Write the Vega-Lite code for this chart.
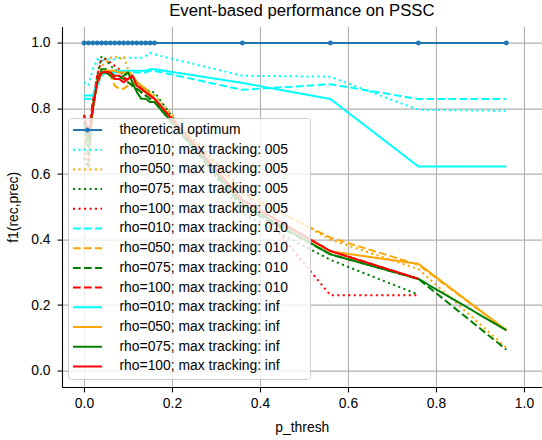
{
"$schema": "https://vega.github.io/schema/vega-lite/v6.json",
"width": 479.6, "height": 360.4,
"autosize": {"type": "none"},
"padding": {"left": 62, "top": 26.6, "right": 0, "bottom": 53},
"background": "white",
"config": {"view": {"stroke": null}, "font": "Liberation Sans",
 "axis": {"grid": true, "gridColor": "#b0b0b0", "gridWidth": 1.1, "domainColor": "black", "domainWidth": 1.1, "tickColor": "black", "tickSize": 4.9, "tickWidth": 1.1, "labelFontSize": 13.9, "labelColor": "black", "labelPadding": 4.9, "titleFontSize": 13.9, "titleFontWeight": "normal", "titleColor": "black", "labelFont": "Liberation Sans", "titleFont": "Liberation Sans"}},
"title": {"text": "Event-based performance on PSSC", "fontSize": 16.7, "fontWeight": "normal", "color": "black", "font": "Liberation Sans", "offset": 7, "anchor": "middle"},
"data": {"values": [
{"s":"theoretical optimum","x":0,"y":1},{"s":"theoretical optimum","x":0.01,"y":1},{"s":"theoretical optimum","x":0.02,"y":1},{"s":"theoretical optimum","x":0.03,"y":1},{"s":"theoretical optimum","x":0.04,"y":1},{"s":"theoretical optimum","x":0.05,"y":1},{"s":"theoretical optimum","x":0.06,"y":1},{"s":"theoretical optimum","x":0.07,"y":1},{"s":"theoretical optimum","x":0.08,"y":1},{"s":"theoretical optimum","x":0.09,"y":1},{"s":"theoretical optimum","x":0.10,"y":1},{"s":"theoretical optimum","x":0.11,"y":1},{"s":"theoretical optimum","x":0.12,"y":1},{"s":"theoretical optimum","x":0.13,"y":1},{"s":"theoretical optimum","x":0.14,"y":1},{"s":"theoretical optimum","x":0.15,"y":1},{"s":"theoretical optimum","x":0.16,"y":1},{"s":"theoretical optimum","x":0.36,"y":1},{"s":"theoretical optimum","x":0.56,"y":1},{"s":"theoretical optimum","x":0.76,"y":1},{"s":"theoretical optimum","x":0.96,"y":1},
{"s":"rho=010; max tracking: 005","x":0,"y":0.88},{"s":"rho=010; max tracking: 005","x":0.01,"y":0.87},{"s":"rho=010; max tracking: 005","x":0.02,"y":0.92},{"s":"rho=010; max tracking: 005","x":0.03,"y":0.95},{"s":"rho=010; max tracking: 005","x":0.04,"y":0.945},{"s":"rho=010; max tracking: 005","x":0.05,"y":0.95},{"s":"rho=010; max tracking: 005","x":0.06,"y":0.95},{"s":"rho=010; max tracking: 005","x":0.07,"y":0.95},{"s":"rho=010; max tracking: 005","x":0.08,"y":0.955},{"s":"rho=010; max tracking: 005","x":0.09,"y":0.955},{"s":"rho=010; max tracking: 005","x":0.10,"y":0.955},{"s":"rho=010; max tracking: 005","x":0.11,"y":0.955},{"s":"rho=010; max tracking: 005","x":0.12,"y":0.955},{"s":"rho=010; max tracking: 005","x":0.13,"y":0.955},{"s":"rho=010; max tracking: 005","x":0.14,"y":0.96},{"s":"rho=010; max tracking: 005","x":0.15,"y":0.97},{"s":"rho=010; max tracking: 005","x":0.16,"y":0.965},{"s":"rho=010; max tracking: 005","x":0.36,"y":0.90},{"s":"rho=010; max tracking: 005","x":0.56,"y":0.897},{"s":"rho=010; max tracking: 005","x":0.76,"y":0.796},{"s":"rho=010; max tracking: 005","x":0.96,"y":0.793},
{"s":"rho=050; max tracking: 005","x":0,"y":0.70},{"s":"rho=050; max tracking: 005","x":0.01,"y":0.60},{"s":"rho=050; max tracking: 005","x":0.02,"y":0.80},{"s":"rho=050; max tracking: 005","x":0.03,"y":0.88},{"s":"rho=050; max tracking: 005","x":0.04,"y":0.93},{"s":"rho=050; max tracking: 005","x":0.05,"y":0.94},{"s":"rho=050; max tracking: 005","x":0.06,"y":0.955},{"s":"rho=050; max tracking: 005","x":0.07,"y":0.96},{"s":"rho=050; max tracking: 005","x":0.08,"y":0.95},{"s":"rho=050; max tracking: 005","x":0.09,"y":0.96},{"s":"rho=050; max tracking: 005","x":0.10,"y":0.92},{"s":"rho=050; max tracking: 005","x":0.11,"y":0.90},{"s":"rho=050; max tracking: 005","x":0.12,"y":0.88},{"s":"rho=050; max tracking: 005","x":0.13,"y":0.87},{"s":"rho=050; max tracking: 005","x":0.14,"y":0.86},{"s":"rho=050; max tracking: 005","x":0.15,"y":0.85},{"s":"rho=050; max tracking: 005","x":0.16,"y":0.84},{"s":"rho=050; max tracking: 005","x":0.36,"y":0.55},{"s":"rho=050; max tracking: 005","x":0.56,"y":0.40},{"s":"rho=050; max tracking: 005","x":0.76,"y":0.31},{"s":"rho=050; max tracking: 005","x":0.96,"y":0.07},
{"s":"rho=075; max tracking: 005","x":0,"y":0.65},{"s":"rho=075; max tracking: 005","x":0.01,"y":0.62},{"s":"rho=075; max tracking: 005","x":0.02,"y":0.82},{"s":"rho=075; max tracking: 005","x":0.03,"y":0.90},{"s":"rho=075; max tracking: 005","x":0.04,"y":0.96},{"s":"rho=075; max tracking: 005","x":0.05,"y":0.95},{"s":"rho=075; max tracking: 005","x":0.06,"y":0.93},{"s":"rho=075; max tracking: 005","x":0.07,"y":0.92},{"s":"rho=075; max tracking: 005","x":0.08,"y":0.91},{"s":"rho=075; max tracking: 005","x":0.09,"y":0.91},{"s":"rho=075; max tracking: 005","x":0.10,"y":0.90},{"s":"rho=075; max tracking: 005","x":0.11,"y":0.89},{"s":"rho=075; max tracking: 005","x":0.12,"y":0.88},{"s":"rho=075; max tracking: 005","x":0.13,"y":0.87},{"s":"rho=075; max tracking: 005","x":0.14,"y":0.86},{"s":"rho=075; max tracking: 005","x":0.15,"y":0.85},{"s":"rho=075; max tracking: 005","x":0.16,"y":0.85},{"s":"rho=075; max tracking: 005","x":0.36,"y":0.48},{"s":"rho=075; max tracking: 005","x":0.56,"y":0.338},{"s":"rho=075; max tracking: 005","x":0.76,"y":0.232},
{"s":"rho=100; max tracking: 005","x":0,"y":0.68},{"s":"rho=100; max tracking: 005","x":0.01,"y":0.62},{"s":"rho=100; max tracking: 005","x":0.02,"y":0.80},{"s":"rho=100; max tracking: 005","x":0.03,"y":0.90},{"s":"rho=100; max tracking: 005","x":0.04,"y":0.95},{"s":"rho=100; max tracking: 005","x":0.05,"y":0.95},{"s":"rho=100; max tracking: 005","x":0.06,"y":0.94},{"s":"rho=100; max tracking: 005","x":0.07,"y":0.93},{"s":"rho=100; max tracking: 005","x":0.08,"y":0.92},{"s":"rho=100; max tracking: 005","x":0.09,"y":0.90},{"s":"rho=100; max tracking: 005","x":0.10,"y":0.88},{"s":"rho=100; max tracking: 005","x":0.11,"y":0.87},{"s":"rho=100; max tracking: 005","x":0.12,"y":0.86},{"s":"rho=100; max tracking: 005","x":0.13,"y":0.85},{"s":"rho=100; max tracking: 005","x":0.14,"y":0.84},{"s":"rho=100; max tracking: 005","x":0.15,"y":0.83},{"s":"rho=100; max tracking: 005","x":0.16,"y":0.82},{"s":"rho=100; max tracking: 005","x":0.36,"y":0.555},{"s":"rho=100; max tracking: 005","x":0.56,"y":0.23},{"s":"rho=100; max tracking: 005","x":0.76,"y":0.23},
{"s":"rho=010; max tracking: 010","x":0,"y":0.83},{"s":"rho=010; max tracking: 010","x":0.01,"y":0.83},{"s":"rho=010; max tracking: 010","x":0.02,"y":0.83},{"s":"rho=010; max tracking: 010","x":0.03,"y":0.87},{"s":"rho=010; max tracking: 010","x":0.04,"y":0.90},{"s":"rho=010; max tracking: 010","x":0.05,"y":0.91},{"s":"rho=010; max tracking: 010","x":0.06,"y":0.91},{"s":"rho=010; max tracking: 010","x":0.07,"y":0.91},{"s":"rho=010; max tracking: 010","x":0.08,"y":0.91},{"s":"rho=010; max tracking: 010","x":0.09,"y":0.91},{"s":"rho=010; max tracking: 010","x":0.10,"y":0.91},{"s":"rho=010; max tracking: 010","x":0.11,"y":0.91},{"s":"rho=010; max tracking: 010","x":0.12,"y":0.91},{"s":"rho=010; max tracking: 010","x":0.13,"y":0.91},{"s":"rho=010; max tracking: 010","x":0.14,"y":0.91},{"s":"rho=010; max tracking: 010","x":0.15,"y":0.915},{"s":"rho=010; max tracking: 010","x":0.16,"y":0.915},{"s":"rho=010; max tracking: 010","x":0.36,"y":0.857},{"s":"rho=010; max tracking: 010","x":0.56,"y":0.874},{"s":"rho=010; max tracking: 010","x":0.76,"y":0.829},{"s":"rho=010; max tracking: 010","x":0.96,"y":0.829},
{"s":"rho=050; max tracking: 010","x":0,"y":0.72},{"s":"rho=050; max tracking: 010","x":0.01,"y":0.70},{"s":"rho=050; max tracking: 010","x":0.02,"y":0.80},{"s":"rho=050; max tracking: 010","x":0.03,"y":0.88},{"s":"rho=050; max tracking: 010","x":0.04,"y":0.90},{"s":"rho=050; max tracking: 010","x":0.05,"y":0.92},{"s":"rho=050; max tracking: 010","x":0.06,"y":0.90},{"s":"rho=050; max tracking: 010","x":0.07,"y":0.87},{"s":"rho=050; max tracking: 010","x":0.08,"y":0.86},{"s":"rho=050; max tracking: 010","x":0.09,"y":0.86},{"s":"rho=050; max tracking: 010","x":0.10,"y":0.87},{"s":"rho=050; max tracking: 010","x":0.11,"y":0.88},{"s":"rho=050; max tracking: 010","x":0.12,"y":0.87},{"s":"rho=050; max tracking: 010","x":0.13,"y":0.86},{"s":"rho=050; max tracking: 010","x":0.14,"y":0.85},{"s":"rho=050; max tracking: 010","x":0.15,"y":0.84},{"s":"rho=050; max tracking: 010","x":0.16,"y":0.83},{"s":"rho=050; max tracking: 010","x":0.36,"y":0.54},{"s":"rho=050; max tracking: 010","x":0.56,"y":0.406},{"s":"rho=050; max tracking: 010","x":0.76,"y":0.323},{"s":"rho=050; max tracking: 010","x":0.96,"y":0.123},
{"s":"rho=075; max tracking: 010","x":0,"y":0.74},{"s":"rho=075; max tracking: 010","x":0.01,"y":0.66},{"s":"rho=075; max tracking: 010","x":0.02,"y":0.80},{"s":"rho=075; max tracking: 010","x":0.03,"y":0.88},{"s":"rho=075; max tracking: 010","x":0.04,"y":0.92},{"s":"rho=075; max tracking: 010","x":0.05,"y":0.92},{"s":"rho=075; max tracking: 010","x":0.06,"y":0.91},{"s":"rho=075; max tracking: 010","x":0.07,"y":0.90},{"s":"rho=075; max tracking: 010","x":0.08,"y":0.90},{"s":"rho=075; max tracking: 010","x":0.09,"y":0.89},{"s":"rho=075; max tracking: 010","x":0.10,"y":0.88},{"s":"rho=075; max tracking: 010","x":0.11,"y":0.87},{"s":"rho=075; max tracking: 010","x":0.12,"y":0.86},{"s":"rho=075; max tracking: 010","x":0.13,"y":0.85},{"s":"rho=075; max tracking: 010","x":0.14,"y":0.84},{"s":"rho=075; max tracking: 010","x":0.15,"y":0.83},{"s":"rho=075; max tracking: 010","x":0.16,"y":0.82},{"s":"rho=075; max tracking: 010","x":0.36,"y":0.50},{"s":"rho=075; max tracking: 010","x":0.56,"y":0.355},{"s":"rho=075; max tracking: 010","x":0.76,"y":0.28},{"s":"rho=075; max tracking: 010","x":0.96,"y":0.064},
{"s":"rho=100; max tracking: 010","x":0,"y":0.78},{"s":"rho=100; max tracking: 010","x":0.01,"y":0.72},{"s":"rho=100; max tracking: 010","x":0.02,"y":0.82},{"s":"rho=100; max tracking: 010","x":0.03,"y":0.90},{"s":"rho=100; max tracking: 010","x":0.04,"y":0.91},{"s":"rho=100; max tracking: 010","x":0.05,"y":0.91},{"s":"rho=100; max tracking: 010","x":0.06,"y":0.91},{"s":"rho=100; max tracking: 010","x":0.07,"y":0.90},{"s":"rho=100; max tracking: 010","x":0.08,"y":0.90},{"s":"rho=100; max tracking: 010","x":0.09,"y":0.89},{"s":"rho=100; max tracking: 010","x":0.10,"y":0.89},{"s":"rho=100; max tracking: 010","x":0.11,"y":0.90},{"s":"rho=100; max tracking: 010","x":0.12,"y":0.88},{"s":"rho=100; max tracking: 010","x":0.13,"y":0.86},{"s":"rho=100; max tracking: 010","x":0.14,"y":0.85},{"s":"rho=100; max tracking: 010","x":0.15,"y":0.84},{"s":"rho=100; max tracking: 010","x":0.16,"y":0.83},{"s":"rho=100; max tracking: 010","x":0.36,"y":0.52},{"s":"rho=100; max tracking: 010","x":0.56,"y":0.365},{"s":"rho=100; max tracking: 010","x":0.76,"y":0.28},
{"s":"rho=010; max tracking: inf","x":0,"y":0.84},{"s":"rho=010; max tracking: inf","x":0.01,"y":0.84},{"s":"rho=010; max tracking: inf","x":0.02,"y":0.84},{"s":"rho=010; max tracking: inf","x":0.03,"y":0.88},{"s":"rho=010; max tracking: inf","x":0.04,"y":0.91},{"s":"rho=010; max tracking: inf","x":0.05,"y":0.915},{"s":"rho=010; max tracking: inf","x":0.06,"y":0.915},{"s":"rho=010; max tracking: inf","x":0.07,"y":0.915},{"s":"rho=010; max tracking: inf","x":0.08,"y":0.915},{"s":"rho=010; max tracking: inf","x":0.09,"y":0.915},{"s":"rho=010; max tracking: inf","x":0.10,"y":0.915},{"s":"rho=010; max tracking: inf","x":0.11,"y":0.915},{"s":"rho=010; max tracking: inf","x":0.12,"y":0.915},{"s":"rho=010; max tracking: inf","x":0.13,"y":0.915},{"s":"rho=010; max tracking: inf","x":0.14,"y":0.915},{"s":"rho=010; max tracking: inf","x":0.15,"y":0.92},{"s":"rho=010; max tracking: inf","x":0.16,"y":0.92},{"s":"rho=010; max tracking: inf","x":0.36,"y":0.878},{"s":"rho=010; max tracking: inf","x":0.56,"y":0.829},{"s":"rho=010; max tracking: inf","x":0.76,"y":0.623},{"s":"rho=010; max tracking: inf","x":0.96,"y":0.623},
{"s":"rho=050; max tracking: inf","x":0,"y":0.75},{"s":"rho=050; max tracking: inf","x":0.01,"y":0.70},{"s":"rho=050; max tracking: inf","x":0.02,"y":0.80},{"s":"rho=050; max tracking: inf","x":0.03,"y":0.88},{"s":"rho=050; max tracking: inf","x":0.04,"y":0.91},{"s":"rho=050; max tracking: inf","x":0.05,"y":0.915},{"s":"rho=050; max tracking: inf","x":0.06,"y":0.915},{"s":"rho=050; max tracking: inf","x":0.07,"y":0.915},{"s":"rho=050; max tracking: inf","x":0.08,"y":0.91},{"s":"rho=050; max tracking: inf","x":0.09,"y":0.91},{"s":"rho=050; max tracking: inf","x":0.10,"y":0.91},{"s":"rho=050; max tracking: inf","x":0.11,"y":0.90},{"s":"rho=050; max tracking: inf","x":0.12,"y":0.88},{"s":"rho=050; max tracking: inf","x":0.13,"y":0.87},{"s":"rho=050; max tracking: inf","x":0.14,"y":0.86},{"s":"rho=050; max tracking: inf","x":0.15,"y":0.845},{"s":"rho=050; max tracking: inf","x":0.16,"y":0.83},{"s":"rho=050; max tracking: inf","x":0.36,"y":0.52},{"s":"rho=050; max tracking: inf","x":0.56,"y":0.364},{"s":"rho=050; max tracking: inf","x":0.76,"y":0.326},{"s":"rho=050; max tracking: inf","x":0.96,"y":0.123},
{"s":"rho=075; max tracking: inf","x":0,"y":0.76},{"s":"rho=075; max tracking: inf","x":0.01,"y":0.70},{"s":"rho=075; max tracking: inf","x":0.02,"y":0.80},{"s":"rho=075; max tracking: inf","x":0.03,"y":0.88},{"s":"rho=075; max tracking: inf","x":0.04,"y":0.91},{"s":"rho=075; max tracking: inf","x":0.05,"y":0.91},{"s":"rho=075; max tracking: inf","x":0.06,"y":0.90},{"s":"rho=075; max tracking: inf","x":0.07,"y":0.89},{"s":"rho=075; max tracking: inf","x":0.08,"y":0.89},{"s":"rho=075; max tracking: inf","x":0.09,"y":0.90},{"s":"rho=075; max tracking: inf","x":0.10,"y":0.91},{"s":"rho=075; max tracking: inf","x":0.11,"y":0.88},{"s":"rho=075; max tracking: inf","x":0.12,"y":0.85},{"s":"rho=075; max tracking: inf","x":0.13,"y":0.83},{"s":"rho=075; max tracking: inf","x":0.14,"y":0.83},{"s":"rho=075; max tracking: inf","x":0.15,"y":0.82},{"s":"rho=075; max tracking: inf","x":0.16,"y":0.82},{"s":"rho=075; max tracking: inf","x":0.36,"y":0.51},{"s":"rho=075; max tracking: inf","x":0.56,"y":0.355},{"s":"rho=075; max tracking: inf","x":0.76,"y":0.28},{"s":"rho=075; max tracking: inf","x":0.96,"y":0.123},
{"s":"rho=100; max tracking: inf","x":0,"y":0.78},{"s":"rho=100; max tracking: inf","x":0.01,"y":0.72},{"s":"rho=100; max tracking: inf","x":0.02,"y":0.80},{"s":"rho=100; max tracking: inf","x":0.03,"y":0.88},{"s":"rho=100; max tracking: inf","x":0.04,"y":0.91},{"s":"rho=100; max tracking: inf","x":0.05,"y":0.912},{"s":"rho=100; max tracking: inf","x":0.06,"y":0.91},{"s":"rho=100; max tracking: inf","x":0.07,"y":0.89},{"s":"rho=100; max tracking: inf","x":0.08,"y":0.89},{"s":"rho=100; max tracking: inf","x":0.09,"y":0.88},{"s":"rho=100; max tracking: inf","x":0.10,"y":0.89},{"s":"rho=100; max tracking: inf","x":0.11,"y":0.90},{"s":"rho=100; max tracking: inf","x":0.12,"y":0.87},{"s":"rho=100; max tracking: inf","x":0.13,"y":0.86},{"s":"rho=100; max tracking: inf","x":0.14,"y":0.85},{"s":"rho=100; max tracking: inf","x":0.15,"y":0.84},{"s":"rho=100; max tracking: inf","x":0.16,"y":0.83},{"s":"rho=100; max tracking: inf","x":0.36,"y":0.52},{"s":"rho=100; max tracking: inf","x":0.56,"y":0.365},{"s":"rho=100; max tracking: inf","x":0.76,"y":0.28}
]},
"encoding": {
 "x": {"field": "x", "type": "quantitative", "scale": {"domain": [-0.05, 1.04], "nice": false, "zero": false}, "axis": {"title": "p_thresh", "values": [0, 0.2, 0.4, 0.6, 0.8, 1.0], "format": ".1f", "titlePadding": 10}},
 "y": {"field": "y", "type": "quantitative", "scale": {"domain": [-0.05, 1.05], "nice": false, "zero": false}, "axis": {"title": "f1(rec,prec)", "values": [0, 0.2, 0.4, 0.6, 0.8, 1.0], "format": ".1f", "labelPadding": 7, "titlePadding": 10}}
},
"layer": [
 {"mark": {"type": "line", "strokeWidth": 2, "clip": true},
  "encoding": {
   "color": {"field": "s", "type": "nominal", "sort": null,
     "scale": {"domain": ["theoretical optimum","rho=010; max tracking: 005","rho=050; max tracking: 005","rho=075; max tracking: 005","rho=100; max tracking: 005","rho=010; max tracking: 010","rho=050; max tracking: 010","rho=075; max tracking: 010","rho=100; max tracking: 010","rho=010; max tracking: inf","rho=050; max tracking: inf","rho=075; max tracking: inf","rho=100; max tracking: inf"],
       "range": ["#1f77b4","#00ffff","#ffa500","#008000","#ff0000","#00ffff","#ffa500","#008000","#ff0000","#00ffff","#ffa500","#008000","#ff0000"]},
     "legend": {"title": "\u00a0", "titleOrient": "right", "titlePadding": 17, "titleFontSize": 13.9, "orient": "none", "legendX": 6, "legendY": 91.4, "fillColor": "rgba(255,255,255,0.8)", "strokeColor": "#cccccc", "cornerRadius": 3, "padding": 5, "symbolType": "M-2.5,0H2.5", "symbolSize": 135, "symbolStrokeWidth": 2, "symbolOffset": 7.5, "labelOffset": 25, "labelFontSize": 13.9, "labelColor": "black", "labelFont": "Liberation Sans", "labelLimit": 0, "rowPadding": 5.7,
       "encode": {"symbols": {"update": {"shape": {"signal": "datum.value === 'theoretical optimum' ? 'M-2.5,0H2.5M-0.25,0A0.25,0.25,0,1,1,0.25,0A0.25,0.25,0,1,1,-0.25,0' : 'M-2.5,0H2.5'"}}}}}},
   "strokeDash": {"field": "s", "type": "nominal", "sort": null,
     "scale": {"domain": ["theoretical optimum","rho=010; max tracking: 005","rho=050; max tracking: 005","rho=075; max tracking: 005","rho=100; max tracking: 005","rho=010; max tracking: 010","rho=050; max tracking: 010","rho=075; max tracking: 010","rho=100; max tracking: 010","rho=010; max tracking: inf","rho=050; max tracking: inf","rho=075; max tracking: inf","rho=100; max tracking: inf"],
       "range": [[1,0],[2.1,3.4],[2.1,3.4],[2.1,3.4],[2.1,3.4],[7.7,3.3],[7.7,3.3],[7.7,3.3],[7.7,3.3],[1,0],[1,0],[1,0],[1,0]]},
     "legend": {"title": "\u00a0", "titleOrient": "right", "orient": "none", "legendX": 6, "legendY": 91.4}}
  }},
 {"transform": [{"filter": "datum.s === 'theoretical optimum'"}],
  "mark": {"type": "point", "filled": true, "color": "#1f77b4", "size": 24, "opacity": 1, "clip": true},
  "encoding": {}}
]
}
